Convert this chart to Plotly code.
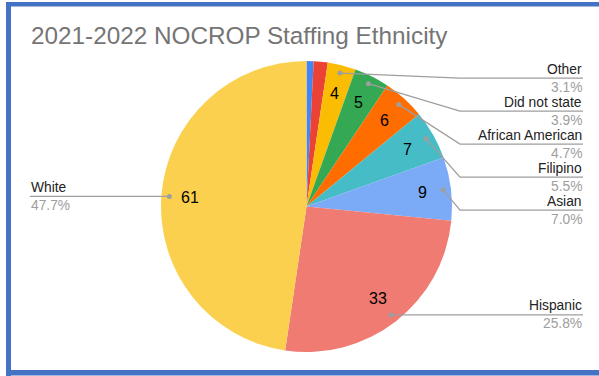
import math
import plotly.graph_objects as go

# ---- data ----
labels = ["Unlabeled A", "Unlabeled B", "Other", "Did not state", "African American",
          "Filipino", "Asian", "Hispanic", "White"]
values = [1, 2, 4, 5, 6, 7, 9, 33, 61]
colors = ["#4285F4", "#EA4335", "#FBBC04", "#34A853", "#FF6D01",
          "#46BDC6", "#7BAAF7", "#F07B72", "#FCD04F"]
show_label = [False, False, True, True, True, True, True, True, True]
title = "2021-2022 NOCROP Staffing Ethnicity"

# ---- layout constants (pixels) ----
W, H = 599, 376
CX, CY, R = 306.5, 206.5, 145.5
FONT = "Arial, Liberation Sans, sans-serif"
GRAY = "#9e9e9e"
KNEE_X, RIGHT_X, LEFT_X = 460, 583, 30
TOP_LINE_Y, STACK = 78, 33
LABEL_SIZE = 13.8


def px(x):
    return x / W


def py(y):
    return 1 - y / H


fig = go.Figure(go.Pie(
    labels=labels, values=values, sort=False, direction="clockwise", rotation=0,
    marker=dict(colors=colors, line=dict(width=0)), textinfo="none",
    hoverinfo="label+value+percent", showlegend=False,
    domain=dict(x=[px(CX - R), px(CX + R)], y=[py(CY + R), py(CY - R)]),
))

total = sum(values)
annotations = []
shapes = []


def pt(angle, r):
    return CX + r * math.sin(angle), CY - r * math.cos(angle)


cum = 0
prev_line = None
for lab, v, show in zip(labels, values, show_label):
    mid = (cum + v / 2) / total * 2 * math.pi
    cum += v
    if not show:
        continue
    # value inside slice
    tx, ty = pt(mid, 0.8 * R)
    annotations.append(dict(x=px(tx), y=py(ty), xref="paper", yref="paper", text=str(v),
                            showarrow=False, xanchor="center", yanchor="middle",
                            font=dict(family=FONT, size=16, color="#000")))
    dx, dy = pt(mid, 0.945 * R)
    shapes.append(dict(type="circle", xref="paper", yref="paper",
                       x0=px(dx - 2.5), x1=px(dx + 2.5), y0=py(dy + 2.5), y1=py(dy - 2.5),
                       fillcolor=GRAY, line=dict(width=0), layer="above"))
    pct = f"{v / total * 100:.1f}%"
    if dx < CX:
        ly = dy
        shapes.append(dict(type="line", xref="paper", yref="paper", x0=px(dx), y0=py(ly),
                           x1=px(LEFT_X), y1=py(ly), line=dict(color=GRAY, width=1.3)))
        xa, xpos = "left", LEFT_X
    else:
        if dy < CY:
            ly = dy + 5 if prev_line is None else max(dy + 5, prev_line + STACK)
            ly = max(ly, TOP_LINE_Y)
            prev_line = ly
            path = f"M {px(dx)} {py(dy)} L {px(KNEE_X)} {py(ly)} L {px(RIGHT_X)} {py(ly)}"
            shapes.append(dict(type="path", xref="paper", yref="paper", path=path,
                               line=dict(color=GRAY, width=1.3)))
        else:
            ly = dy
            shapes.append(dict(type="line", xref="paper", yref="paper", x0=px(dx), y0=py(ly),
                               x1=px(RIGHT_X), y1=py(ly), line=dict(color=GRAY, width=1.3)))
        xa, xpos = "right", RIGHT_X
    annotations.append(dict(x=px(xpos), y=py(ly - 0.5), xref="paper", yref="paper", text=lab,
                            showarrow=False, xanchor=xa, yanchor="bottom", borderpad=0,
                            font=dict(family=FONT, size=LABEL_SIZE, color="#222")))
    annotations.append(dict(x=px(xpos), y=py(ly + 0.5), xref="paper", yref="paper", text=pct,
                            showarrow=False, xanchor=xa, yanchor="top", borderpad=0,
                            font=dict(family=FONT, size=LABEL_SIZE, color=GRAY)))

# title
annotations.append(dict(x=px(29), y=py(36), xref="paper", yref="paper", text=title,
                        showarrow=False, xanchor="left", yanchor="middle",
                        font=dict(family=FONT, size=24.3, color="#757575")))

# outer blue frame
FRAME = "#4472C4"
for x0, y0, x1, y1 in [(6, 2, 11, 376), (6, 2, 599, 6.5), (6, 370, 599, 375.5)]:
    shapes.append(dict(type="rect", xref="paper", yref="paper", x0=px(x0), x1=px(x1),
                       y0=py(y1), y1=py(y0), fillcolor=FRAME, line=dict(width=0)))

fig.update_layout(width=W, height=H, margin=dict(l=0, r=0, t=0, b=0),
                  paper_bgcolor="white", plot_bgcolor="white",
                  annotations=annotations, shapes=shapes)
fig.write_html("out.html")
